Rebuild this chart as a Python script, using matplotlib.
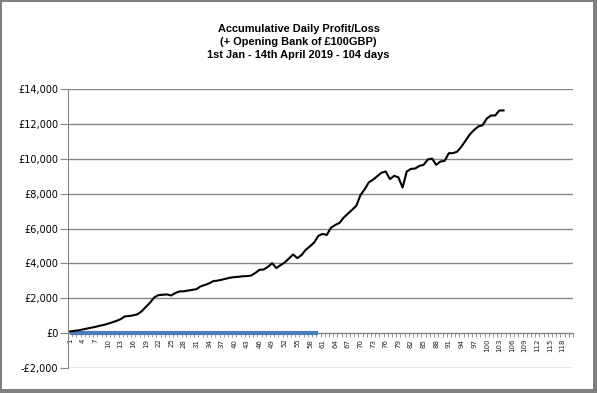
import numpy as np
import matplotlib.pyplot as plt
from matplotlib.patches import Rectangle
from matplotlib.ticker import FuncFormatter

# cumulative balance per day (GBP), 104 days
days = list(range(1, 105))
balance = [100, 130, 160, 210, 260, 310, 360, 420, 470, 540,
           620, 700, 800, 960, 980, 1020, 1080, 1250, 1500, 1750,
           2050, 2180, 2200, 2220, 2160, 2300, 2390, 2400, 2440, 2480,
           2520, 2680, 2760, 2850, 2980, 3010, 3060, 3120, 3180, 3210,
           3230, 3260, 3270, 3300, 3450, 3630, 3650, 3800, 4010, 3730,
           3900, 4050, 4280, 4510, 4300, 4480, 4780, 4980, 5200, 5580,
           5690, 5630, 6050, 6200, 6320, 6620, 6850, 7070, 7300, 7920,
           8250, 8650, 8800, 9000, 9200, 9270, 8830, 9020, 8940, 8350,
           9270, 9420, 9440, 9590, 9650, 9960, 10010, 9650, 9840, 9880,
           10320, 10320, 10410, 10700, 11050, 11400, 11650, 11850, 11920, 12300,
           12480, 12480, 12770, 12770]
zero_days = list(range(1, 61))
zero_vals = [0] * 60
n_cats = 120
yticks = list(range(-2000, 14001, 2000))

title = ("Accumulative Daily Profit/Loss\n"
         "(+ Opening Bank of £100GBP)\n"
         "1st Jan - 14th April 2019 - 104 days")

plt.rcParams['font.family'] = ['DejaVu Sans']

fig = plt.figure(figsize=(5.97, 3.93), dpi=100)
fig.patch.set_facecolor('#808080')
fig.patches.append(Rectangle((2 / 597, 4 / 393), 591 / 597, 387 / 393,
                             transform=fig.transFigure, facecolor='white',
                             edgecolor='none', zorder=-10))

ax = fig.add_axes([68 / 597, 25 / 393, 505 / 597, 279 / 393])
ax.set_facecolor('none')

ax.plot(zero_days, zero_vals, color='#4A7EBB', lw=3, solid_capstyle='butt', zorder=3)
ax.plot(days, balance, color='black', lw=1.5, zorder=4)

ax.set_xlim(0.5, n_cats + 0.5)
ax.set_ylim(-2000, 14000)
ax.set_yticks(yticks)
ax.yaxis.set_major_formatter(FuncFormatter(
    lambda v, p: ('-£{:,.0f}'.format(-v) if v < 0 else '£{:,.0f}'.format(v))))
ax.tick_params(axis='y', labelsize=7, length=6, color='#868686', pad=1)
ax.grid(axis='y', color='#868686', lw=1)
ax.set_axisbelow(True)

for s in ['top', 'right']:
    ax.spines[s].set_visible(False)
ax.spines['left'].set_color('#868686')
ax.spines['bottom'].set_position(('data', 0))
ax.spines['bottom'].set_color('#868686')

lab_pos = list(range(1, n_cats, 3))
ax.set_xticks(lab_pos)
ax.set_xticklabels([str(i) for i in lab_pos], rotation=90, fontsize=5)
ax.set_xticks(np.arange(0.5, n_cats + 1, 1), minor=True)
ax.tick_params(axis='x', which='major', length=0, pad=4, labelcolor='#222222')
ax.tick_params(axis='x', which='minor', length=3, color='#868686', direction='out')

fig.text(0.5, 1 - 41.7 / 393, title, ha='center', va='center', fontsize=7.9,
         fontweight='bold', family='Liberation Sans', linespacing=1.36)

fig.savefig('out.png', dpi=100, facecolor=fig.get_facecolor())
